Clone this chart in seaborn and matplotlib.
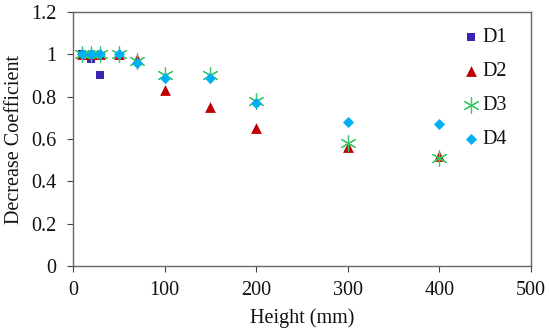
import matplotlib
matplotlib.use("Agg")
import matplotlib.pyplot as plt
import seaborn as sns
import pandas as pd

d1_x = [10, 20, 30]
d1_y = [1.00, 0.98, 0.90]
d_x = [10, 20, 30, 50, 70, 100, 150, 200, 300, 400]
d2_y = [1.00, 1.00, 1.00, 1.00, 0.98, 0.83, 0.75, 0.65, 0.56, 0.52]
d3_y = [1.00, 1.00, 1.00, 1.00, 0.97, 0.90, 0.90, 0.78, 0.58, 0.51]
d4_y = [1.00, 1.00, 1.00, 1.00, 0.96, 0.89, 0.89, 0.77, 0.68, 0.67]
series_names = ["D1", "D2", "D3", "D4"]
x_ticks = [0, 100, 200, 300, 400, 500]
y_ticks = [0, 0.2, 0.4, 0.6, 0.8, 1.0, 1.2]
y_tick_labels = ["0", "0.2", "0.4", "0.6", "0.8", "1", "1.2"]

sns.set_theme(style="white")
plt.rcParams["font.family"] = ["Liberation Serif", "DejaVu Serif"]

df = pd.concat([
    pd.DataFrame({"x": d1_x, "y": d1_y, "s": "D1"}),
    pd.DataFrame({"x": d_x, "y": d2_y, "s": "D2"}),
    pd.DataFrame({"x": d_x, "y": d3_y, "s": "D3"}),
    pd.DataFrame({"x": d_x, "y": d4_y, "s": "D4"}),
])

colors = {"D1": "#3E22B4", "D2": "#C00000", "D3": "#3CC86A", "D4": "#00B0F0"}
markers = {"D1": "s", "D2": "^", "D3": (6, 2, 0), "D4": "D"}
sizes = {"D1": 32, "D2": 60, "D3": 120, "D4": 32}

FS = 14.5
fig = plt.figure(figsize=(5.5, 3.31), dpi=100)
ax = fig.add_axes([0.1327, 0.196, 0.8327, 0.768])

for name in series_names:
    sub = df[df["s"] == name]
    lw = 0.9 if name == "D3" else 0
    sns.scatterplot(data=sub, x="x", y="y", ax=ax, color=colors[name],
                    marker=markers[name], s=sizes[name], linewidth=lw,
                    edgecolor=colors[name], label=name, zorder=3)

ax.set_xlim(0, 500)
ax.set_ylim(0, 1.2)
ax.set_xticks(x_ticks)
ax.set_yticks(y_ticks)
ax.set_yticklabels(y_tick_labels)
ax.tick_params(axis="both", labelsize=FS, direction="out", length=4,
               width=0.8, color="#444444", bottom=True, left=True,
               labelcolor="#111111")
ax.tick_params(axis="x", pad=7)
ax.tick_params(axis="y", pad=8)
for sp in ax.spines.values():
    sp.set_color("#666666")
    sp.set_linewidth(1.0)
ax.set_xlabel("Height (mm)", fontsize=FS, color="#111111")
ax.set_ylabel("Decrease Coefficient", fontsize=FS, color="#111111")
ax.xaxis.set_label_coords(0.5, -0.165)
ax.yaxis.set_label_coords(-0.108, 0.5)

leg = ax.legend(loc="upper right", bbox_to_anchor=(0.975, 0.985), frameon=False,
                fontsize=FS, labelspacing=0.74, handletextpad=0.0,
                handlelength=1.2, borderaxespad=0.2)
for t in leg.get_texts():
    t.set_color("#111111")

fig.savefig("out.png", dpi=100)
